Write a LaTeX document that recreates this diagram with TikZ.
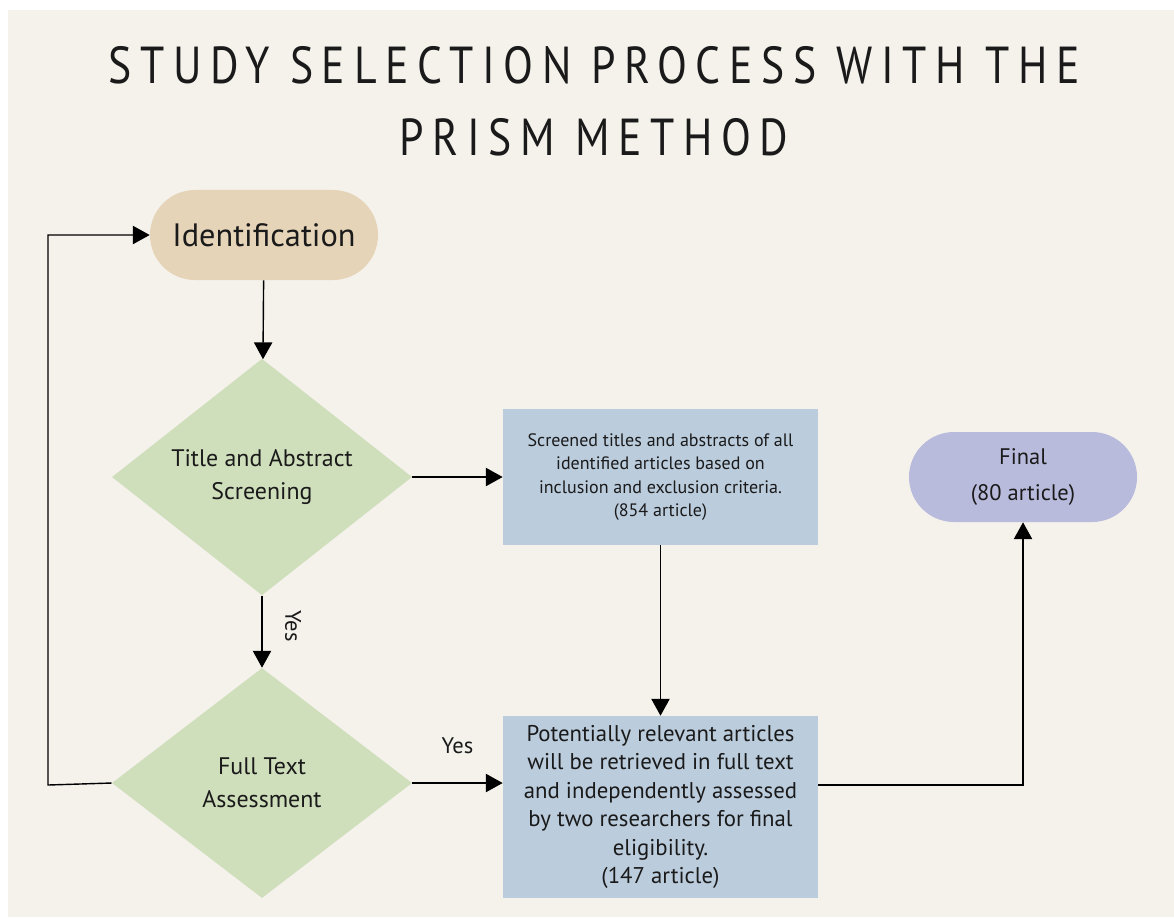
\documentclass[tikz,border=0pt]{standalone}
\usepackage{fontspec}
\setmainfont{PT Sans}
\newfontfamily\titlefont[FakeStretch=0.84, LetterSpace=16.5]{PT Sans}
\usetikzlibrary{shapes.geometric,shapes.misc,arrows.meta}

\definecolor{paper}{HTML}{F5F2EC}
\definecolor{tan}{HTML}{E6D4B9}
\definecolor{sage}{HTML}{CFDEBB}
\definecolor{steel}{HTML}{BBCCDD}
\definecolor{lilac}{HTML}{B9BBDC}
\definecolor{ink}{HTML}{1A1A1A}

\tikzset{
  pill/.style={rounded rectangle, minimum width=5.7cm, minimum height=2.25cm, inner sep=0pt, text=ink, align=center},
  decision/.style={diamond, fill=sage, minimum width=7.5cm, minimum height=5.75cm, inner sep=0pt, text=ink, align=center,
    font=\fontsize{17}{23.5}\selectfont},
  infobox/.style={rectangle, fill=steel, minimum width=7.875cm, inner sep=0pt, text=ink, align=center},
  arr/.style={-{Triangle[length=12pt, width=13pt]}, line width=1pt, black},
  yeslbl/.style={text=ink, font=\fontsize{16}{18}\selectfont}
}

\begin{document}
\begin{tikzpicture}[x=.025cm, y=-.025cm]
    \useasboundingbox (0,0) rectangle (1174,917);
    \fill[paper] (8,10) rectangle (1174,917);

    \node[text=ink, align=center, font=\titlefont\fontsize{37}{51}\selectfont] (title) at (594,101)
      {STUDY SELECTION PROCESS WITH THE\\PRISM METHOD};

    \node[pill, fill=tan, font=\fontsize{23}{26}\selectfont] (ident) at (264,235) {Identification};
    \node[decision] (screen) at (262,477) {Title and Abstract\\Screening};
    \node[decision] (full) at (262,783) {Full Text\\Assessment};

    \node[infobox, minimum height=3.4cm, font=\fontsize{12.8}{16.7}\selectfont] (screened) at (660.5,477)
      {Screened titles and abstracts of all\\identified articles based on\\inclusion and exclusion criteria.\\(854 article)};
    \node[infobox, minimum height=4.55cm, font=\fontsize{16.2}{20.2}\selectfont] (relevant) at (660.5,807)
      {Potentially relevant articles\\will be retrieved in full text\\and independently assessed\\by two researchers for final\\eligibility.\\(147 article)};
    \node[pill, fill=lilac, font=\fontsize{16}{25.5}\selectfont] (final) at (1023,477) {Final\\(80 article)};

    \coordinate (back) at (48,785);

    \draw[arr] (ident) -- (screen);
    \draw[arr] (screen) -- (screened);
    \draw[arr] (screen) -- node[yeslbl, pos=.42, xshift=.78cm, rotate=-90] {Yes} (full);
    \draw[arr] (screened) -- (relevant);
    \draw[arr] (full) -- node[yeslbl, midway, yshift=.92cm] {Yes} (relevant.west |- full);
    \draw[arr] (relevant.east |- back) -| (final);
    \draw[arr] (full.west) -- (back) |- (ident);

  \end{tikzpicture}
\end{document}
